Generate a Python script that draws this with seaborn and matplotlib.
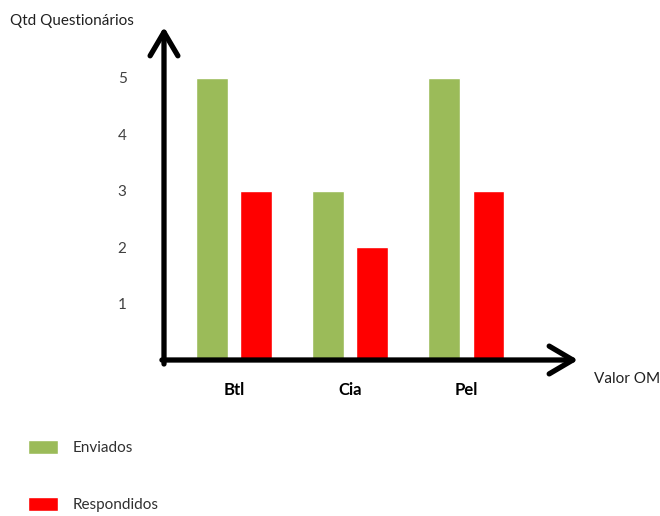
import pandas as pd
import seaborn as sns
import matplotlib.pyplot as plt

# data
categorias = ["Btl", "Cia", "Pel"]
enviados = [5, 3, 5]
respondidos = [3, 2, 3]
series = ["Enviados", "Respondidos"]
cores = ["#9BBB59", "#FF0000"]
yticks = [1, 2, 3, 4, 5]

df = pd.DataFrame({
    "OM": categorias * 2,
    "Qtd": enviados + respondidos,
    "Tipo": [series[0]] * len(categorias) + [series[1]] * len(categorias),
})

sns.set_style("white")
plt.rcParams["font.family"] = ["Lato", "DejaVu Sans"]

W, H = 660, 516
fig = plt.figure(figsize=(W / 100, H / 100), dpi=100)
# axes placed in pixel terms: y axis at x=164, x axis at y=360, arrows end at x=578 / y=27
left, right, top, bottom = 164, 578, 27, 360
ax = fig.add_axes([left / W, 1 - bottom / H, (right - left) / W, (bottom - top) / H])

sns.barplot(data=df, x="OM", y="Qtd", hue="Tipo", hue_order=series,
            palette=cores, width=0.76, gap=0.28, saturation=1, ax=ax)

ax.set_xlim(-0.6, 2.96)
ax.set_ylim(0, 5.9)
sns.despine(ax=ax, left=True, bottom=True)

# axis arrows
arrow = dict(arrowstyle="->, head_length=0.85, head_width=0.5", lw=3.8,
             color="black", mutation_scale=20, shrinkA=0, shrinkB=0)
ax.annotate("", xy=(0, 1), xytext=(0, -0.012), xycoords="axes fraction", arrowprops=arrow)
ax.annotate("", xy=(1, 0), xytext=(-0.005, 0), xycoords="axes fraction", arrowprops=arrow)

ax.set_yticks(yticks)
ax.set_yticklabels([str(v) for v in yticks], fontsize=11, color="#404040")
ax.tick_params(axis="y", length=0, pad=27)
ax.set_xticks(range(len(categorias)))
ax.set_xticklabels(categorias, fontsize=12, fontweight="bold", color="black")
ax.tick_params(axis="x", length=0, pad=16)
ax.set_xlabel("")
ax.set_ylabel("")

fig.text(10 / W, 1 - 21 / H, "Qtd Questionários", fontsize=11, va="center", ha="left", color="#202020")
fig.text(594 / W, 1 - 379 / H, "Valor OM", fontsize=11, va="center", ha="left", color="#202020")

handles, labels = ax.get_legend_handles_labels()
ax.get_legend().remove()
fig.legend(handles, labels, loc="upper left", bbox_to_anchor=(28 / W, 1 - 440 / H),
           frameon=False, borderpad=0, borderaxespad=0, fontsize=11,
           labelspacing=2.75, handlelength=1.95, handleheight=1.0, handletextpad=0.95,
           labelcolor="#303030")

fig.savefig("out.png", dpi=100)
